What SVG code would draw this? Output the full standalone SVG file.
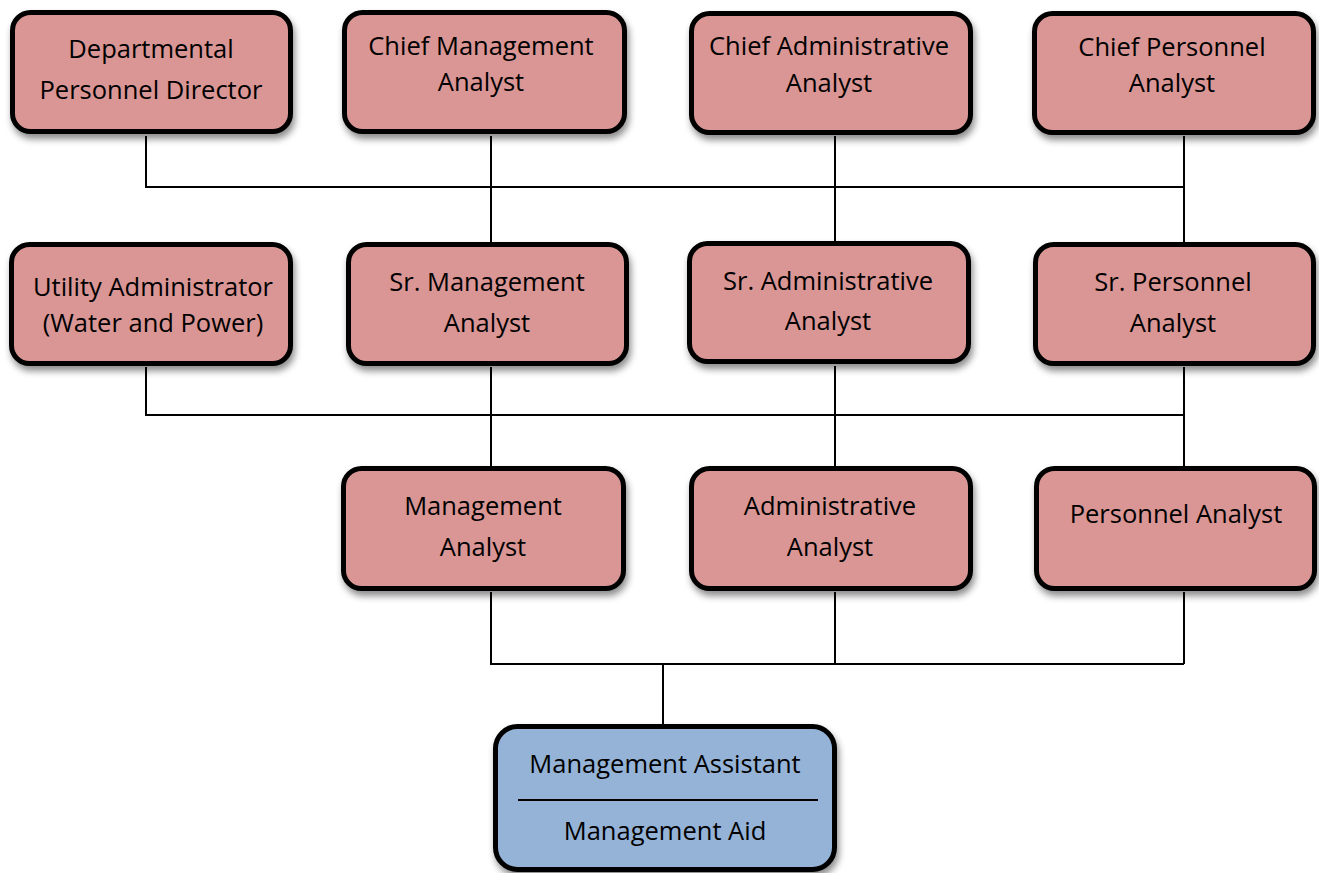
<svg xmlns="http://www.w3.org/2000/svg" width="1319" height="873" viewBox="0 0 1319 873">
<defs>
<filter id="sh" x="-10%" y="-10%" width="125%" height="135%">
<feDropShadow dx="2" dy="5" stdDeviation="3.5" flood-color="#000" flood-opacity="0.45"/>
</filter>
<style>
.box{fill:#D99694;stroke:#000;stroke-width:5;filter:url(#sh)}
.blue{fill:#95B3D7;stroke:#000;stroke-width:5;filter:url(#sh)}
.t{font-family:"Open Sans","Liberation Sans",sans-serif;font-size:25.5px;fill:#000;text-anchor:middle}
.c{stroke:#000;stroke-width:2;fill:none}
</style>
</defs>
<rect width="1319" height="873" fill="#fff"/>
<g id="connectors">
<path class="c" d="M146 136V187H1184M491 136V242M835 136V242M1184 136V243"/>
<path class="c" d="M146 367V415H1184M491 367V467M835 366V467M1184 367V467"/>
<path class="c" d="M491 592V664H1184M835 592V664M1184 592V664M663 664V725"/>
</g>
<g id="n-dept-personnel-director">
<rect class="box" x="12.5" y="12.5" width="278" height="119" rx="18"/>
<text class="t" x="151" y="58">Departmental</text>
<text class="t" x="151" y="99">Personnel Director</text>
</g>
<g id="n-chief-management-analyst">
<rect class="box" x="344.5" y="12.5" width="280" height="119" rx="18"/>
<text class="t" x="481" y="55">Chief Management</text>
<text class="t" x="481" y="91">Analyst</text>
</g>
<g id="n-chief-administrative-analyst">
<rect class="box" x="691.5" y="13.5" width="279" height="119" rx="18"/>
<text class="t" x="829" y="55">Chief Administrative</text>
<text class="t" x="829" y="92">Analyst</text>
</g>
<g id="n-chief-personnel-analyst">
<rect class="box" x="1034.5" y="13.5" width="279" height="119" rx="18"/>
<text class="t" x="1172" y="56">Chief Personnel</text>
<text class="t" x="1172" y="92">Analyst</text>
</g>
<g id="n-utility-administrator">
<rect class="box" x="11.5" y="244.5" width="279" height="119" rx="18"/>
<text class="t" x="153" y="296">Utility Administrator</text>
<text class="t" x="153" y="332">(Water and Power)</text>
</g>
<g id="n-sr-management-analyst">
<rect class="box" x="348.5" y="244.5" width="278" height="119" rx="18"/>
<text class="t" x="487" y="291">Sr. Management</text>
<text class="t" x="487" y="332">Analyst</text>
</g>
<g id="n-sr-administrative-analyst">
<rect class="box" x="689.5" y="243.5" width="279" height="118" rx="18"/>
<text class="t" x="828" y="290">Sr. Administrative</text>
<text class="t" x="828" y="330">Analyst</text>
</g>
<g id="n-sr-personnel-analyst">
<rect class="box" x="1035.5" y="244.5" width="278" height="119" rx="18"/>
<text class="t" x="1173" y="291">Sr. Personnel</text>
<text class="t" x="1173" y="332">Analyst</text>
</g>
<g id="n-management-analyst">
<rect class="box" x="343.5" y="468.5" width="280" height="120" rx="18"/>
<text class="t" x="483" y="515">Management</text>
<text class="t" x="483" y="556">Analyst</text>
</g>
<g id="n-administrative-analyst">
<rect class="box" x="691.5" y="468.5" width="279" height="120" rx="18"/>
<text class="t" x="830" y="515">Administrative</text>
<text class="t" x="830" y="556">Analyst</text>
</g>
<g id="n-personnel-analyst">
<rect class="box" x="1036.5" y="468.5" width="278" height="120" rx="18"/>
<text class="t" x="1176" y="523">Personnel Analyst</text>
</g>
<g id="n-management-assistant-aid">
<rect class="blue" x="495.5" y="726.5" width="339" height="143" rx="22"/>
<text class="t" x="665" y="773">Management Assistant</text>
<line x1="518" y1="800" x2="818" y2="800" stroke="#000" stroke-width="2"/>
<text class="t" x="665" y="840">Management Aid</text>
</g>
</svg>
